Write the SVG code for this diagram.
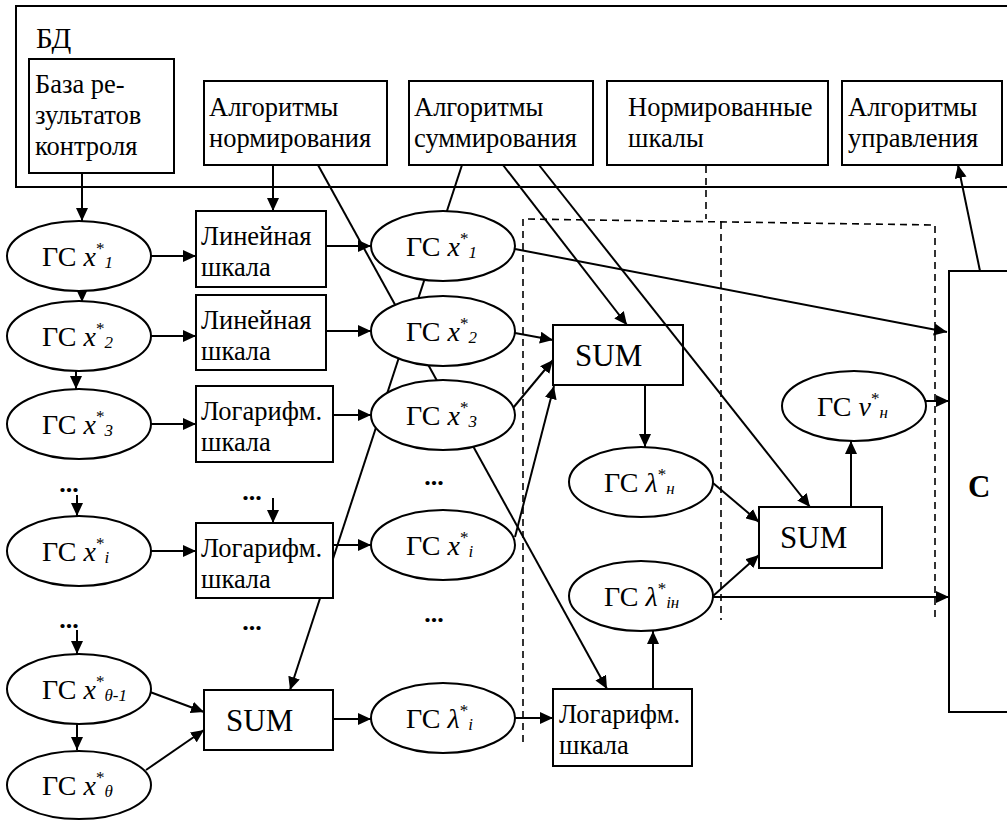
<svg xmlns="http://www.w3.org/2000/svg" width="1007" height="821" viewBox="0 0 1007 821" font-family="'Liberation Serif', 'Times New Roman', serif">
<style>
.box{fill:#fff;stroke:#000;stroke-width:2}
.ell{fill:#fff;stroke:#000;stroke-width:2}
text{font-family:'Liberation Serif','Times New Roman',serif;fill:#000}
.t{font-size:26.5px}
.g{font-size:28px}
.sum{font-size:31px}
.dots{font-size:26px;font-weight:bold;text-anchor:middle}
.i{font-style:italic}
.s{font-size:17px}
.c{fill:none;stroke:#000;stroke-width:2}
.a{marker-end:url(#ah)}
.d{fill:none;stroke:#000;stroke-width:1.6;stroke-dasharray:7,5}
</style>
<defs>
<marker id="ah" markerUnits="userSpaceOnUse" markerWidth="14" markerHeight="12" refX="13" refY="6" orient="auto">
<path d="M0,0 L13,6 L0,12 z" fill="#000"/>
</marker>
</defs>
<rect width="1007" height="821" fill="#fff"/>
<g id="bd">
<rect class="box" x="16" y="6" width="1010" height="181"/>
<text x="36" y="48" style="font-size:29px">БД</text>
</g>
<g id="dashed-region">
<path class="d" d="M706,166 V219"/>
<path class="d" d="M523,742 V219 L935,225 V620"/>
<path class="d" d="M721,222 V620"/>
</g>
<g id="connectors">
<path class="c a" d="M82,173 V221"/>
<path class="c a" d="M82,290 V302"/>
<path class="c a" d="M76,371 V389"/>
<path class="c a" d="M77,495 V516"/>
<path class="c a" d="M77,630 V654"/>
<path class="c a" d="M77,724 V750"/>
<path class="c a" d="M151,256 H196"/>
<path class="c a" d="M151,336 H196"/>
<path class="c a" d="M151,424 H196"/>
<path class="c a" d="M151,551 H196"/>
<path class="c a" d="M326,246 H371"/>
<path class="c a" d="M326,331 H371"/>
<path class="c a" d="M333,415 H371"/>
<path class="c a" d="M333,545 H371"/>
<path class="c a" d="M273,165 V211"/>
<path class="c a" d="M273,498 V523"/>
<path class="c a" d="M150,692 L204,712"/>
<path class="c a" d="M146,770 L204,730"/>
<path class="c a" d="M333,719 H371"/>
<path class="c a" d="M515,718 H553"/>
<path class="c a" d="M653,689 V631"/>
<path class="c a" d="M515,333 L553,340"/>
<path class="c a" d="M513,408 L553,360"/>
<path class="c a" d="M515,537 L554,386"/>
<path class="c a" d="M645,385 V447"/>
<path class="c a" d="M713,483 L759,522"/>
<path class="c a" d="M713,596 L759,555"/>
<path class="c a" d="M713,597 H949"/>
<path class="c a" d="M851,507 V441"/>
<path class="c a" d="M926,401 H949"/>
<path class="c a" d="M515,249 L947,332"/>
<path class="c a" d="M980,271 L958,165"/>
<path class="c a" d="M318,165 L607,689"/>
<path class="c a" d="M462,165 L290,690"/>
<path class="c a" d="M503,165 L627,325"/>
<path class="c a" d="M539,165 L810,507"/>
</g>
<g id="baza">
<rect class="box" x="29" y="59" width="145" height="114"/>
<text class="t" x="35" y="93">База ре-</text>
<text class="t" x="35" y="124">зультатов</text>
<text class="t" x="35" y="155">контроля</text>
</g>
<g id="alg-norm">
<rect class="box" x="204" y="81" width="183" height="84"/>
<text class="t" x="209" y="116">Алгоритмы</text>
<text class="t" x="209" y="147">нормирования</text>
</g>
<g id="alg-sum">
<rect class="box" x="409" y="81" width="184" height="84"/>
<text class="t" x="414" y="116">Алгоритмы</text>
<text class="t" x="414" y="147">суммирования</text>
</g>
<g id="norm-scales">
<rect class="box" x="607" y="81" width="221" height="84"/>
<text class="t" x="628" y="116">Нормированные</text>
<text class="t" x="628" y="147">шкалы</text>
</g>
<g id="alg-upr">
<rect class="box" x="842" y="81" width="160" height="84"/>
<text class="t" x="848" y="116">Алгоритмы</text>
<text class="t" x="848" y="147">управления</text>
</g>
<g id="gs-x1">
<ellipse class="ell" cx="79" cy="256" rx="72" ry="35"/>
<text class="g" x="42" y="266">ГС <tspan class="i">x</tspan><tspan class="s" dy="-12">*</tspan><tspan class="s i" dy="14">1</tspan></text>
</g>
<g id="gs-x2">
<ellipse class="ell" cx="79" cy="336" rx="72" ry="35"/>
<text class="g" x="42" y="346">ГС <tspan class="i">x</tspan><tspan class="s" dy="-12">*</tspan><tspan class="s i" dy="14">2</tspan></text>
</g>
<g id="gs-x3">
<ellipse class="ell" cx="79" cy="424" rx="72" ry="35"/>
<text class="g" x="42" y="434">ГС <tspan class="i">x</tspan><tspan class="s" dy="-12">*</tspan><tspan class="s i" dy="14">3</tspan></text>
</g>
<g id="gs-xi">
<ellipse class="ell" cx="79" cy="551" rx="72" ry="35"/>
<text class="g" x="42" y="561">ГС <tspan class="i">x</tspan><tspan class="s" dy="-12">*</tspan><tspan class="s i" dy="14">i</tspan></text>
</g>
<g id="gs-xt1">
<ellipse class="ell" cx="79" cy="689" rx="72" ry="35"/>
<text class="g" x="42" y="699">ГС <tspan class="i">x</tspan><tspan class="s" dy="-12">*</tspan><tspan class="s i" dy="14">θ-1</tspan></text>
</g>
<g id="gs-xt">
<ellipse class="ell" cx="79" cy="785" rx="72" ry="34"/>
<text class="g" x="42" y="795">ГС <tspan class="i">x</tspan><tspan class="s" dy="-12">*</tspan><tspan class="s i" dy="14">θ</tspan></text>
</g>
<g id="dots">
<text class="dots" x="69" y="492">...</text>
<text class="dots" x="69" y="628">...</text>
<text class="dots" x="252" y="500">...</text>
<text class="dots" x="252" y="630">...</text>
<text class="dots" x="434" y="485">...</text>
<text class="dots" x="434" y="622">...</text>
</g>
<g id="lin1">
<rect class="box" x="196" y="211" width="130" height="76"/>
<text class="t" x="201" y="245">Линейная</text>
<text class="t" x="201" y="276">шкала</text>
</g>
<g id="lin2">
<rect class="box" x="196" y="295" width="130" height="75"/>
<text class="t" x="201" y="329">Линейная</text>
<text class="t" x="201" y="360">шкала</text>
</g>
<g id="log3">
<rect class="box" x="196" y="386" width="137" height="76"/>
<text class="t" x="201" y="420">Логарифм.</text>
<text class="t" x="201" y="451">шкала</text>
</g>
<g id="logi">
<rect class="box" x="196" y="523" width="137" height="75"/>
<text class="t" x="201" y="557">Логарифм.</text>
<text class="t" x="201" y="588">шкала</text>
</g>
<g id="sum-left">
<rect class="box" x="204" y="690" width="129" height="60"/>
<text class="sum" x="226" y="731">SUM</text>
</g>
<g id="gs3-x1">
<ellipse class="ell" cx="443" cy="246" rx="72" ry="35"/>
<text class="g" x="406" y="256">ГС <tspan class="i">x</tspan><tspan class="s" dy="-12">*</tspan><tspan class="s i" dy="14">1</tspan></text>
</g>
<g id="gs3-x2">
<ellipse class="ell" cx="443" cy="331" rx="72" ry="35"/>
<text class="g" x="406" y="341">ГС <tspan class="i">x</tspan><tspan class="s" dy="-12">*</tspan><tspan class="s i" dy="14">2</tspan></text>
</g>
<g id="gs3-x3">
<ellipse class="ell" cx="443" cy="415" rx="72" ry="35"/>
<text class="g" x="406" y="425">ГС <tspan class="i">x</tspan><tspan class="s" dy="-12">*</tspan><tspan class="s i" dy="14">3</tspan></text>
</g>
<g id="gs3-xi">
<ellipse class="ell" cx="443" cy="545" rx="72" ry="35"/>
<text class="g" x="406" y="555">ГС <tspan class="i">x</tspan><tspan class="s" dy="-12">*</tspan><tspan class="s i" dy="14">i</tspan></text>
</g>
<g id="gs3-li">
<ellipse class="ell" cx="443" cy="718" rx="72" ry="35"/>
<text class="g" x="406" y="728">ГС <tspan class="i">λ</tspan><tspan class="s" dy="-12">*</tspan><tspan class="s i" dy="14">i</tspan></text>
</g>
<g id="sum-mid">
<rect class="box" x="553" y="325" width="130" height="60" style="fill:none"/>
<text class="sum" x="575" y="366">SUM</text>
</g>
<g id="gs-ln">
<ellipse class="ell" cx="641" cy="482" rx="72" ry="35"/>
<text class="g" x="604" y="492">ГС <tspan class="i">λ</tspan><tspan class="s" dy="-12">*</tspan><tspan class="s i" dy="14">н</tspan></text>
</g>
<g id="gs-lin">
<ellipse class="ell" cx="641" cy="596" rx="72" ry="35"/>
<text class="g" x="604" y="606">ГС <tspan class="i">λ</tspan><tspan class="s" dy="-12">*</tspan><tspan class="s i" dy="14">iн</tspan></text>
</g>
<g id="log4">
<rect class="box" x="553" y="689" width="139" height="77"/>
<text class="t" x="559" y="723">Логарифм.</text>
<text class="t" x="559" y="754">шкала</text>
</g>
<g id="sum-right">
<rect class="box" x="759" y="507" width="123" height="61"/>
<text class="sum" x="780" y="548">SUM</text>
</g>
<g id="gs-vn">
<ellipse class="ell" cx="854" cy="406" rx="72" ry="35"/>
<text class="g" x="817" y="416">ГС <tspan class="i">ν</tspan><tspan class="s" dy="-12">*</tspan><tspan class="s i" dy="14">н</tspan></text>
</g>
<g id="c-box">
<rect class="box" x="949" y="271" width="80" height="441"/>
<text class="sum" x="968" y="497" style="font-weight:bold">C</text>
</g>
</svg>
